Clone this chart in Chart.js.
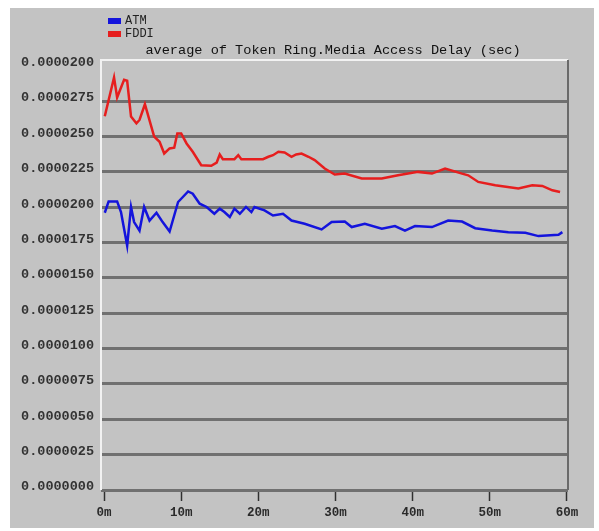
<!DOCTYPE html>
<html>
<head>
<meta charset="utf-8">
<script src="https://cdn.jsdelivr.net/npm/chart.js@4.4.0/dist/chart.umd.min.js"></script>
<style>
html,body{margin:0;padding:0;background:#ffffff;}
canvas{display:block;}
</style>
</head>
<body>
<canvas id="c" width="599" height="531"></canvas>
<script>
// ---- data (time in minutes, delay in seconds) ----
const seriesLabels = ["ATM", "FDDI"];
const chartTitle = "average of Token Ring.Media Access Delay (sec)";

const atmTime = [0.1,0.6,1.7,2.2,3.0,3.5,3.9,4.6,5.2,5.9,6.8,7.6,8.5,9.6,10.9,11.5,12.4,13.3,14.3,15.0,15.6,16.3,16.9,17.6,18.4,19.1,19.5,20.8,21.9,23.2,24.3,26.0,28.2,29.5,31.2,32.1,33.8,36.0,37.7,39.0,40.3,42.5,44.6,46.4,48.1,50.3,52.4,54.6,56.3,58.9,59.4];
const atmValues = [0.00001960,0.00002040,0.00002040,0.00001965,0.00001728,0.00002001,0.00001894,0.00001834,0.00002001,0.00001905,0.00001960,0.00001894,0.00001827,0.00002036,0.00002111,0.00002095,0.00002024,0.00002001,0.00001953,0.00001989,0.00001965,0.00001930,0.00001989,0.00001953,0.00002001,0.00001965,0.00002001,0.00001977,0.00001941,0.00001953,0.00001905,0.00001882,0.00001842,0.00001894,0.00001898,0.00001859,0.00001882,0.00001847,0.00001866,0.00001834,0.00001866,0.00001859,0.00001905,0.00001898,0.00001851,0.00001834,0.00001823,0.00001818,0.00001795,0.00001804,0.00001823];

const fddiTime = [0.1,1.3,1.7,2.6,3.0,3.5,4.2,4.6,5.3,6.5,7.2,7.8,8.5,9.1,9.5,10.0,10.7,11.5,12.6,13.9,14.6,15.0,15.4,16.9,17.4,17.8,20.6,21.3,21.9,22.6,23.4,24.3,24.9,25.6,26.5,27.3,28.6,29.9,31.2,33.4,36.0,38.1,40.7,42.5,44.2,46.4,47.2,48.5,50.7,53.7,55.5,56.8,58.1,59.1];
const fddiValues = [0.00002642,0.00002917,0.00002775,0.00002900,0.00002893,0.00002640,0.00002592,0.00002616,0.00002727,0.00002498,0.00002462,0.00002379,0.00002415,0.00002420,0.00002521,0.00002521,0.00002450,0.00002391,0.00002296,0.00002292,0.00002315,0.00002372,0.00002339,0.00002339,0.00002367,0.00002339,0.00002339,0.00002356,0.00002367,0.00002391,0.00002386,0.00002356,0.00002372,0.00002379,0.00002356,0.00002332,0.00002273,0.00002230,0.00002237,0.00002202,0.00002202,0.00002225,0.00002249,0.00002237,0.00002273,0.00002237,0.00002225,0.00002178,0.00002154,0.00002131,0.00002154,0.00002150,0.00002119,0.00002107];

const yTickValues = [0,0.0000025,0.000005,0.0000075,0.00001,0.0000125,0.000015,0.0000175,0.00002,0.0000225,0.000025,0.0000275,0.00003];
const yTickLabels = ["0.0000000","0.0000025","0.0000050","0.0000075","0.0000100","0.0000125","0.0000150","0.0000175","0.0000200","0.0000225","0.0000250","0.0000275","0.0000200"];
const xTickValues = [0,10,20,30,40,50,60];
const xTickLabels = ["0m","10m","20m","30m","40m","50m","60m"];

const seriesColors = ["#1414dc", "#e61e1e"];

function pts(xs, ys){ return xs.map((x,i)=>({x:x, y:ys[i]})); }

const panelPlugin = {
  id: 'panel',
  beforeDraw(chart){
    const ctx = chart.ctx;
    ctx.save();
    ctx.fillStyle = '#ffffff';
    ctx.fillRect(0,0,chart.width,chart.height);
    ctx.fillStyle = '#c3c3c3';
    ctx.fillRect(10,8,584,520);
    ctx.restore();
  },
  beforeDatasetsDraw(chart){
    const ctx = chart.ctx, a = chart.chartArea;
    ctx.save();
    ctx.lineWidth = 2;
    ctx.strokeStyle = '#f2f2f2';
    ctx.beginPath();
    ctx.moveTo(a.left, a.bottom);
    ctx.lineTo(a.left, a.top);
    ctx.lineTo(a.right, a.top);
    ctx.stroke();
    ctx.strokeStyle = '#6a6a6a';
    ctx.beginPath();
    ctx.moveTo(a.right, a.top);
    ctx.lineTo(a.right, a.bottom);
    ctx.stroke();
    ctx.restore();
  },
  afterDraw(chart){
    const ctx = chart.ctx, a = chart.chartArea;
    ctx.save();
    // legend
    ctx.font = '12px "Liberation Mono"';
    ctx.textBaseline = 'middle';
    ctx.textAlign = 'left';
    chart.data.datasets.forEach((ds,i)=>{
      const y = 21 + i*13;
      ctx.fillStyle = ds.borderColor;
      ctx.fillRect(108, y-3, 13, 6);
      ctx.fillStyle = '#222';
      ctx.fillText(ds.label, 125, y);
    });
    // title
    ctx.font = '13.6px "Liberation Mono"';
    ctx.textAlign = 'center';
    ctx.fillStyle = '#111';
    ctx.fillText(chartTitle, 333, 50);
    ctx.restore();
  }
};

new Chart(document.getElementById('c'), {
  type: 'line',
  data: {
    datasets: [
      { label: seriesLabels[0], data: pts(atmTime, atmValues), borderColor: seriesColors[0], backgroundColor: seriesColors[0], borderWidth: 2.5, pointRadius: 0, tension: 0, fill: false },
      { label: seriesLabels[1], data: pts(fddiTime, fddiValues), borderColor: seriesColors[1], backgroundColor: seriesColors[1], borderWidth: 2.5, pointRadius: 0, tension: 0, fill: false }
    ]
  },
  options: {
    responsive: false,
    animation: false,
    devicePixelRatio: 1,
    layout: { padding: { left: 10, right: 31, top: 60, bottom: 0 } },
    plugins: { legend: { display: false }, title: { display: false }, tooltip: { enabled: false } },
    scales: {
      x: {
        type: 'linear',
        min: -0.39,
        max: 60.13,
        afterBuildTicks: s => { s.ticks = xTickValues.map(v => ({ value: v })); },
        afterFit: s => { s.height = 41; },
        border: { display: false },
        grid: { drawOnChartArea: false, drawTicks: true, tickLength: 11, tickColor: '#303030', tickWidth: 1.5 },
        ticks: {
          padding: 4,
          maxRotation: 0,
          autoSkip: false,
          color: '#2a2a2a',
          font: { family: '"Liberation Mono"', size: 12.5, weight: 'bold' },
          callback: (v, i) => xTickLabels[i]
        }
      },
      y: {
        type: 'linear',
        min: 0,
        max: 0.0000304,
        afterBuildTicks: s => { s.ticks = yTickValues.map(v => ({ value: v })); },
        afterFit: s => { s.width = 91; },
        border: { display: false },
        grid: {
          drawTicks: false,
          lineWidth: 3,
          color: c => (c.index === yTickValues.length - 1 ? 'rgba(0,0,0,0)' : '#707070')
        },
        ticks: {
          padding: 7,
          labelOffset: -3,
          autoSkip: false,
          color: '#333333',
          font: { family: '"Liberation Mono"', size: 13.5, weight: 'bold' },
          callback: (v, i) => yTickLabels[i]
        }
      }
    }
  },
  plugins: [panelPlugin]
});
</script>
</body>
</html>
